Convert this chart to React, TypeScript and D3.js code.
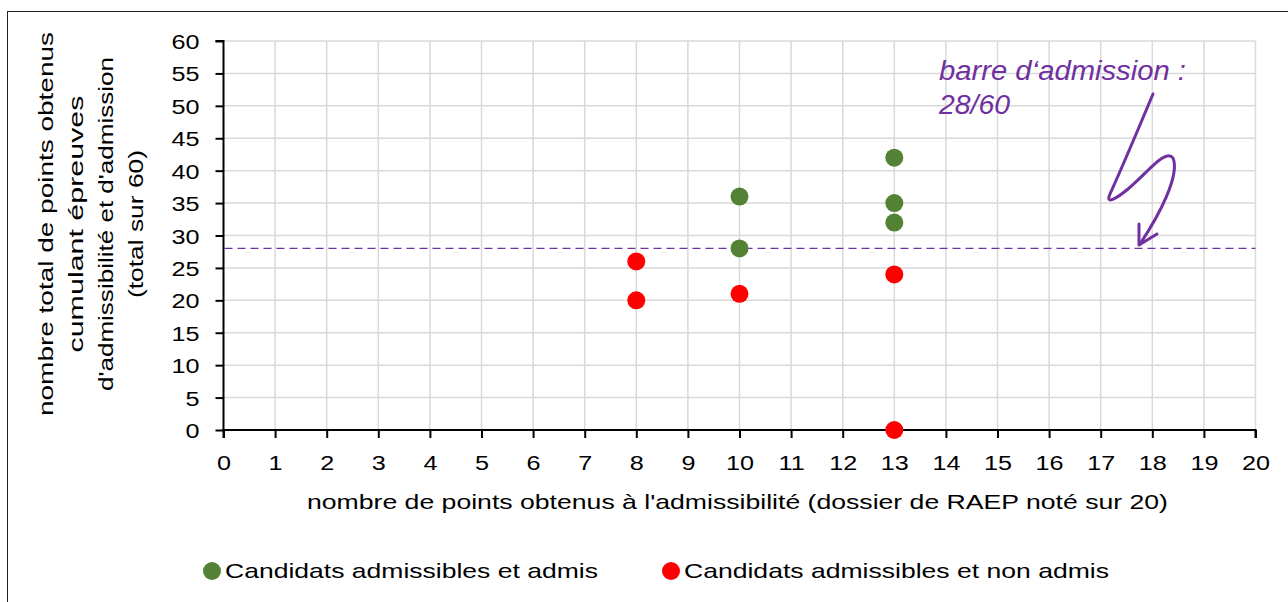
import React, { useEffect, useRef } from "react";
import * as d3 from "d3";

// data
const admisX = [10, 10, 13, 13, 13];
const admisY = [36, 28, 42, 35, 32];
const nonAdmisX = [8, 8, 10, 13, 13];
const nonAdmisY = [26, 20, 21, 24, 0];
const xTicks = d3.range(0, 21);
const yTicks = d3.range(0, 61, 5);
const seuil = 28;
const yTitleLines = [
  "nombre total de points obtenus",
  "cumulant épreuves",
  "d'admissibilité et d'admission",
  "(total sur 60)",
];
const xTitle =
  "nombre de points obtenus à l'admissibilité (dossier de RAEP noté sur 20)";
const legendLabels = [
  "Candidats admissibles et admis",
  "Candidats admissibles et non admis",
];

const App: React.FC = () => {
  const svgRef = useRef<SVGSVGElement | null>(null);
  const W = 1288;
  const H = 602;
  const green = "#548235";
  const red = "#ff0000";
  const purple = "#7030a0";
  const font = "'Liberation Sans', Arial, sans-serif";

  useEffect(() => {
    if (!svgRef.current) return;
    const svg = d3.select(svgRef.current);
    svg.selectAll("*").remove();

    const x = d3.scaleLinear().domain([0, 20]).range([223.5, 1255.5]);
    const y = d3.scaleLinear().domain([0, 60]).range([430, 41]);

    // outer frame
    svg
      .append("rect")
      .attr("x", 7.5)
      .attr("y", 11.5)
      .attr("width", W + 20)
      .attr("height", H + 20)
      .attr("fill", "#fff")
      .attr("stroke", "#222")
      .attr("stroke-width", 1);

    // grid
    svg
      .append("g")
      .selectAll("line")
      .data(xTicks.slice(1))
      .enter()
      .append("line")
      .attr("x1", (d) => x(d))
      .attr("x2", (d) => x(d))
      .attr("y1", y(60))
      .attr("y2", y(0))
      .attr("stroke", "#d9d9d9")
      .attr("stroke-width", 1.5);
    svg
      .append("g")
      .selectAll("line")
      .data(yTicks.slice(1))
      .enter()
      .append("line")
      .attr("x1", x(0))
      .attr("x2", x(20))
      .attr("y1", (d) => y(d))
      .attr("y2", (d) => y(d))
      .attr("stroke", "#d9d9d9")
      .attr("stroke-width", 1.5);

    // axes
    const yAxis = svg
      .append("g")
      .attr("transform", `translate(${x(0)},0)`)
      .call(d3.axisLeft(y).tickValues(yTicks).tickSize(8).tickPadding(0));
    const xAxis = svg
      .append("g")
      .attr("transform", `translate(0,${y(0)})`)
      .call(d3.axisBottom(x).tickValues(xTicks).tickSize(8).tickPadding(0));
    [yAxis, xAxis].forEach((a) => {
      a.select(".domain").attr("stroke", "#000").attr("stroke-width", 2);
      a.selectAll(".tick line").attr("stroke", "#000").attr("stroke-width", 2);
      a.selectAll(".tick text")
        .attr("fill", "#000")
        .style("font-family", font)
        .style("font-size", "21px");
    });
    yAxis
      .selectAll(".tick text")
      .attr("x", 0)
      .attr("dy", null)
      .attr("y", 7.5)
      .attr("transform", "translate(-24,0) scale(1.2,1)");
    xAxis
      .selectAll(".tick text")
      .attr("dy", null)
      .attr("y", 40)
      .attr("transform", "scale(1.2,1)");
    yAxis.select(".domain").attr("d", `M-8,${y(60)}H0V${y(0)}`);
    xAxis.select(".domain").attr("d", `M${x(0)},8V0H${x(20)}V8`);

    // admission threshold
    svg
      .append("line")
      .attr("x1", x(0) + 1)
      .attr("x2", x(20))
      .attr("y1", y(seuil))
      .attr("y2", y(seuil))
      .attr("stroke", purple)
      .attr("stroke-width", 1.3)
      .attr("stroke-dasharray", "8 5");

    // points
    svg
      .append("g")
      .selectAll("circle")
      .data(admisX.map((v, i) => [v, admisY[i]]))
      .enter()
      .append("circle")
      .attr("cx", (d) => x(d[0]))
      .attr("cy", (d) => y(d[1]))
      .attr("r", 9)
      .attr("fill", green);
    svg
      .append("g")
      .selectAll("circle")
      .data(nonAdmisX.map((v, i) => [v, nonAdmisY[i]]))
      .enter()
      .append("circle")
      .attr("cx", (d) => x(d[0]))
      .attr("cy", (d) => y(d[1]))
      .attr("r", 9)
      .attr("fill", red);

    // y title
    const yLens = [384, 257, 334, 148];
    yTitleLines.forEach((l, i) => {
      svg
        .append("text")
        .attr("transform", "translate(0,224) rotate(-90)")
        .attr("text-anchor", "middle")
        .attr("x", 0)
        .attr("y", 53 + i * 30)
        .attr("textLength", yLens[i])
        .attr("lengthAdjust", "spacingAndGlyphs")
        .style("font-family", font)
        .style("font-size", "21px")
        .attr("fill", "#000")
        .text(l);
    });

    // x title
    svg
      .append("text")
      .attr("x", 307)
      .attr("y", 509)
      .attr("textLength", 861)
      .attr("lengthAdjust", "spacingAndGlyphs")
      .style("font-family", font)
      .style("font-size", "21px")
      .text(xTitle);

    // annotation
    svg
      .append("text")
      .attr("x", 939)
      .attr("y", 80)
      .attr("textLength", 247)
      .attr("lengthAdjust", "spacingAndGlyphs")
      .style("font-family", font)
      .style("font-size", "27px")
      .style("font-style", "italic")
      .attr("fill", purple)
      .text("barre d‘admission :");
    svg
      .append("text")
      .attr("x", 939)
      .attr("y", 114)
      .attr("textLength", 71)
      .attr("lengthAdjust", "spacingAndGlyphs")
      .style("font-family", font)
      .style("font-size", "27px")
      .style("font-style", "italic")
      .attr("fill", purple)
      .text("28/60");

    svg
      .append("path")
      .attr(
        "d",
        "M1153,94 C1140,125 1120,172 1110,194 C1105,205 1116,199 1128,189 C1148,172 1166,148 1173,158 C1180,175 1160,214 1140,244"
      )
      .attr("fill", "none")
      .attr("stroke", purple)
      .attr("stroke-width", 3)
      .attr("stroke-linecap", "round");
    svg
      .append("path")
      .attr("d", "M1139,224 L1139,245 L1157,234")
      .attr("fill", "none")
      .attr("stroke", purple)
      .attr("stroke-width", 3)
      .attr("stroke-linecap", "round")
      .attr("stroke-linejoin", "round");

    // legend
    const legX = [212, 671];
    const legLens = [373, 425];
    const legColors = [green, red];
    legendLabels.forEach((l, i) => {
      svg
        .append("circle")
        .attr("cx", legX[i])
        .attr("cy", 571)
        .attr("r", 9)
        .attr("fill", legColors[i]);
      svg
        .append("text")
        .attr("x", legX[i] + 13)
        .attr("y", 578)
        .attr("textLength", legLens[i])
        .attr("lengthAdjust", "spacingAndGlyphs")
        .style("font-family", font)
        .style("font-size", "21px")
        .text(l);
    });
  }, []);

  return (
    <svg
      ref={svgRef}
      width={W}
      height={H}
      style={{ position: "absolute", left: 0, top: 0 }}
    ></svg>
  );
};

export default App;
